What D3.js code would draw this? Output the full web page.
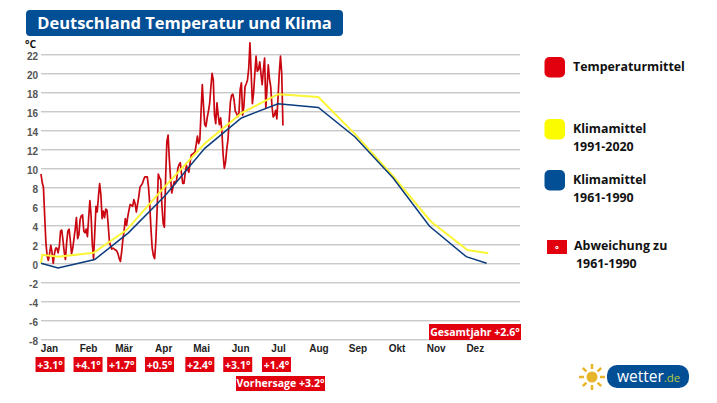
<!DOCTYPE html>
<html lang="de">
<head>
<meta charset="utf-8">
<title>Deutschland Temperatur und Klima</title>
<script src="https://cdn.jsdelivr.net/npm/d3@7"></script>
<style>
  html, body { margin: 0; padding: 0; background: #fff; }
  svg { display: block; font-family: "Open Sans", sans-serif; }
  .axis .domain { display: none; }
  .grid line { stroke: #b3b3b3; stroke-width: 1px; }
  .grid text { fill: #555; font-size: 10px; font-weight: 600; }
  .month text { fill: #222; font-size: 10px; font-weight: 600; }
  .month line, .month .domain { display: none; }
  .legend text { fill: #111; font-size: 12.4px; font-weight: 700; }
  .badge text { fill: #fff; font-size: 10.5px; font-weight: 700; text-anchor: middle; }
</style>
</head>
<body>
<div id="chart-container"></div>
<script>
const months = ["Jan", "Feb", "Mär", "Apr", "Mai", "Jun", "Jul", "Aug", "Sep", "Okt", "Nov", "Dez"];
const monthLabelDays = [6.5, 38.5, 67.6, 100, 131, 163, 194, 227, 259, 291, 323, 355];
const yTicks = d3.range(-8, 23, 2);

// Tagesmittel 1. Jan bis 18. Jul
const tempDaily = [
  9.4, 8.5, 8, 5, 2.2, 0.8, 0.3, 1, 1.9, 1.2, 0, 1, 1.6, 1.6, 1.1, 1.8, 3.4, 3.5, 2.4, 1.2,
  0.4, 2.2, 3.4, 3.6, 2.4, 1, 1.6, 2.6, 3.6, 4.8, 2.6, 3, 4.6, 5, 5.1, 3.4, 3.2, 3.6, 2.8, 4.8,
  6.6, 5, 2, 0.5, 3.2, 6, 5.4, 7, 8.4, 7.2, 4.7, 5.5, 4.8, 5.7, 5.6, 4, 2.3, 1.8, 1.5, 1.6,
  1.5, 1.4, 1.3, 1, 0.5, 0.2, 1.2, 2.5, 3.4, 4.7, 4, 4.9, 5.6, 6.2, 6.1, 6, 6.7, 6.3, 5.4, 6.2,
  7, 8, 8.2, 8.4, 8.8, 9.1, 9.1, 9.1, 8, 6.2, 3.6, 1.6, 0.8, 0.5, 2.4, 5.5, 9.4, 9, 8.8, 6,
  4.2, 3.8, 9, 12.8, 13.5, 11, 9, 7.4, 8, 8.6, 8.4, 8.8, 10, 10.4, 10.6, 9.4, 8.4, 8.4, 9.5, 10.3,
  9.9, 9.6, 10.6, 11.4, 11.5, 11.6, 11.7, 12.5, 13.4, 12.6, 13, 16, 18.8, 16.5, 14.6, 14.4, 15.3, 16, 16.8, 18.5,
  20, 19.3, 15.6, 14.7, 16.9, 15.6, 14.6, 15.3, 14, 11.5, 10, 10.6, 12, 13, 15, 17, 17.7, 17.8, 17.2, 16,
  15.8, 15.4, 15.8, 18.3, 19, 15.6, 16.5, 18.6, 18.9, 19.3, 20.5, 23.2, 20, 16.8, 18, 20, 21.8, 20.2, 20.4, 21.2,
  20, 18.8, 20.4, 21.6, 16.3, 18.5, 20.9, 19.4, 18.6, 16.6, 15.4, 15.6, 16.1, 15.2, 17.5, 20, 21.8, 20, 14.5
];

const climateDays = [0, 14, 44, 71.5, 101.5, 134, 164, 194, 227, 257, 288, 318, 348, 364.7];
const klima6190 = [0, -0.5, 0.4, 3.2, 7.1, 12.1, 15.3, 16.8, 16.4, 13.3, 9, 3.9, 0.7, 0];
const klima9120Days = [0, 1, 14, 43, 70, 101.5, 134, 164, 194, 227, 257, 288, 319, 349, 366];
const klima9120 = [0, 0.9, 0.7, 1.1, 3.5, 8.1, 12.6, 15.8, 17.8, 17.5, 13.6, 9.2, 4.4, 1.4, 1.05];

const badgeLabels = ["+3.1°", "+4.1°", "+1.7°", "+0.5°", "+2.4°", "+3.1°", "+1.4°"];
const badgeDays = [7.4, 38.5, 66, 97, 130, 161, 192.7];

const width = 717;
const height = 403;

const x = d3.scaleLinear().domain([0, 365]).range([41, 487]);
const y = d3.scaleLinear().domain([-8, 22]).range([339.3, 54.3]);

const svg = d3
  .select("#chart-container")
  .append("svg")
  .attr("width", width)
  .attr("height", height);

// Titel
svg.append("rect")
  .attr("x", 26).attr("y", 10).attr("width", 317).attr("height", 26).attr("rx", 4)
  .attr("fill", "#034f96");
svg.append("text")
  .attr("x", 184.5).attr("y", 29).attr("text-anchor", "middle")
  .attr("fill", "#fff").attr("font-size", "16.5px").attr("font-weight", 700)
  .text("Deutschland Temperatur und Klima");

svg.append("text")
  .attr("x", 25).attr("y", 47.5)
  .attr("fill", "#111").attr("font-size", "10.5px").attr("font-weight", 700)
  .text("°C");

// Gitter und y-Achse, mit einfachem Bindestrich wie im Original
const yAxis = d3.axisLeft(y)
  .tickValues(yTicks)
  .tickSize(-479)
  .tickPadding(3)
  .tickFormat(d => String(d));
const yAxisGroup = svg.append("g")
  .attr("class", "axis grid")
  .attr("transform", "translate(41,0)")
  .call(yAxis);
yAxisGroup.selectAll("text").attr("dy", "0.5em");

// Monate
const monthAxis = d3.axisBottom(x)
  .tickValues(monthLabelDays)
  .tickSize(0)
  .tickPadding(0)
  .tickFormat((d, i) => months[i]);
svg.append("g")
  .attr("class", "axis month")
  .attr("transform", "translate(0,344.5)")
  .call(monthAxis);

// Linien
const dailyLine = d3.line()
  .x((d, i) => x(i))
  .y(d => y(d));

function climateLine(days) {
  return d3.line()
    .x((d, i) => x(days[i]))
    .y(d => y(d));
}

svg.append("path")
  .attr("d", dailyLine(tempDaily))
  .attr("fill", "none")
  .attr("stroke", "#c9060f")
  .attr("stroke-width", 1.7)
  .attr("stroke-linejoin", "round");

svg.append("path")
  .attr("d", climateLine(klima9120Days)(klima9120))
  .attr("fill", "none")
  .attr("stroke", "#fbf635")
  .attr("stroke-width", 2);

svg.append("path")
  .attr("d", climateLine(climateDays)(klima6190))
  .attr("fill", "none")
  .attr("stroke", "#0b3b7c")
  .attr("stroke-width", 1.5);

// Abweichungen pro Monat
const badges = svg.append("g")
  .selectAll(".badge")
  .data(badgeLabels)
  .enter()
  .append("g")
  .attr("class", "badge")
  .attr("transform", (d, i) => "translate(" + x(badgeDays[i]) + ",357)");
badges.append("rect")
  .attr("x", -14.5).attr("y", 0).attr("width", 29).attr("height", 15)
  .attr("fill", "#e2000f");
badges.append("text")
  .attr("y", 11.5)
  .text(d => d);

function bigBadge(label, left, top, w, h) {
  const g = svg.append("g").attr("class", "badge");
  g.append("rect")
    .attr("x", left).attr("y", top).attr("width", w).attr("height", h)
    .attr("fill", "#e2000f");
  g.append("text")
    .attr("x", left + w / 2).attr("y", top + h - 4)
    .text(label);
}
bigBadge("Vorhersage +3.2°", 236, 376, 89, 15);
bigBadge("Gesamtjahr +2.6°", 429, 324, 92, 16);

// Legende
const legend = svg.append("g").attr("class", "legend");

function legendEntry(color, top, lines) {
  legend.append("rect")
    .attr("x", 544.5).attr("y", top).attr("width", 20.5).attr("height", 20.5).attr("rx", 5)
    .attr("fill", color);
  lines.forEach((line, i) => {
    legend.append("text")
      .attr("x", 573).attr("y", top + 14 + i * 18)
      .text(line);
  });
}
legendEntry("#e2000f", 57, ["Temperaturmittel"]);
legendEntry("#fcfc00", 119, ["Klimamittel", "1991-2020"]);
legendEntry("#034f96", 170, ["Klimamittel", "1961-1990"]);

legend.append("rect")
  .attr("x", 547).attr("y", 240).attr("width", 20).attr("height", 14)
  .attr("fill", "#e2000f");
legend.append("text")
  .attr("x", 557).attr("y", 252).attr("text-anchor", "middle")
  .style("fill", "#fff").style("font-size", "9px")
  .text("°");
legend.append("text").attr("x", 574).attr("y", 250).text("Abweichung zu");
legend.append("text").attr("x", 576).attr("y", 268).text("1961-1990");

// Logo
const logo = svg.append("g").attr("class", "logo");
const sun = logo.append("g").attr("transform", "translate(592,377)");
sun.append("circle").attr("r", 5.5).attr("fill", "#e8b52a");
sun.selectAll("line")
  .data(d3.range(8))
  .enter()
  .append("line")
  .attr("x1", 8).attr("x2", 13)
  .attr("stroke", "#e8b52a")
  .attr("stroke-width", 2.5)
  .attr("transform", d => "rotate(" + d * 45 + ")");
logo.append("rect")
  .attr("x", 607).attr("y", 365).attr("width", 82).attr("height", 23).attr("rx", 10)
  .attr("fill", "#034f96");
const logoText = logo.append("text")
  .attr("x", 617).attr("y", 382).attr("font-size", "15.5px");
logoText.append("tspan").attr("fill", "#fff").text("wetter");
logoText.append("tspan").attr("fill", "#b5cc3a").attr("font-size", "11.5px").text(".de");
</script>
</body>
</html>
